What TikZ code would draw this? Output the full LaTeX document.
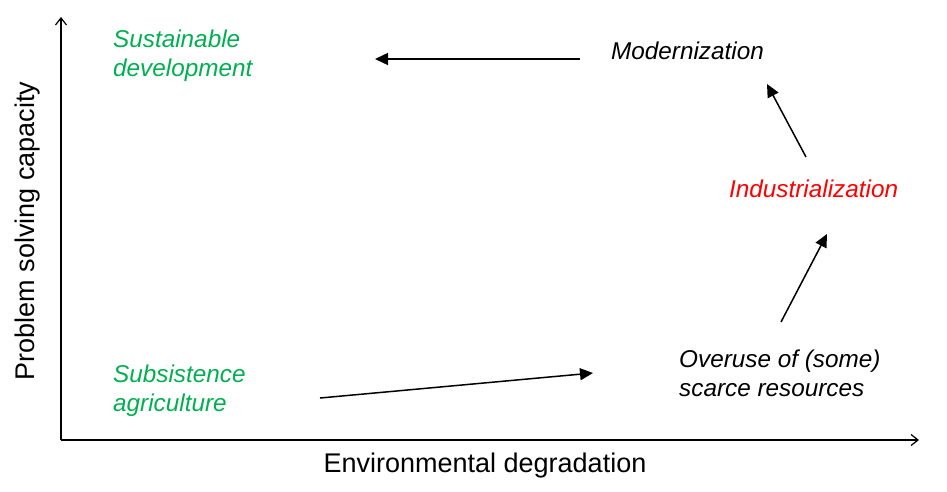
\documentclass[tikz,border=0pt]{standalone}
\usepackage{fontspec}
\setmainfont{Liberation Sans}
\usetikzlibrary{arrows.meta}
\definecolor{sgreen}{RGB}{0,176,80}
\definecolor{sred}{RGB}{255,0,0}
\begin{document}
\begin{tikzpicture}[x=1pt,y=-1pt,
  lbl/.style={inner sep=0pt,anchor=north west,align=left,font=\fontsize{24.3}{29}\selectfont\itshape},
  axlbl/.style={inner sep=0pt,font=\fontsize{27}{30}\selectfont},
  axis/.style={line width=1.4pt,-{Straight Barb[length=7pt,width=11pt,line width=1.2pt]}},
  conn/.style={line width=1.5pt,-{Triangle[length=13pt,width=12pt]}}]
\useasboundingbox (0,0) rectangle (947,491);
\coordinate (o) at (61,440);
\coordinate (ytop) at (61,17);
\coordinate (xend) at (919,440);
\draw[axis] (o) -- (ytop);
\draw[axis] (o) -- (xend);
\node[axlbl,rotate=90] (ylab) at (28,231) {Problem solving capacity};
\node[axlbl] (xlab) at (485,466) {Environmental degradation};
\node[lbl,text=sgreen] (sust) at (113,30) {Sustainable\\development};
\node[lbl] (modern) at (611,42) {Modernization};
\node[lbl,text=sred] (indus) at (729,180) {Industrialization};
\node[lbl] (overuse) at (679,350) {Overuse of (some)\\scarce resources};
\node[lbl,text=sgreen] (subs) at (113,365) {Subsistence\\agriculture};
\coordinate (a1s) at (580,59);
\coordinate (a1e) at (375,59);
\coordinate (a2s) at (806,157);
\coordinate (a2e) at (767,84);
\coordinate (a3s) at (781,322);
\coordinate (a3e) at (827,234);
\coordinate (a4s) at (320,398);
\coordinate (a4e) at (593,373);
\draw[conn] (a1s) -- (a1e);
\draw[conn] (a2s) -- (a2e);
\draw[conn] (a3s) -- (a3e);
\draw[conn] (a4s) -- (a4e);
\end{tikzpicture}
\end{document}
